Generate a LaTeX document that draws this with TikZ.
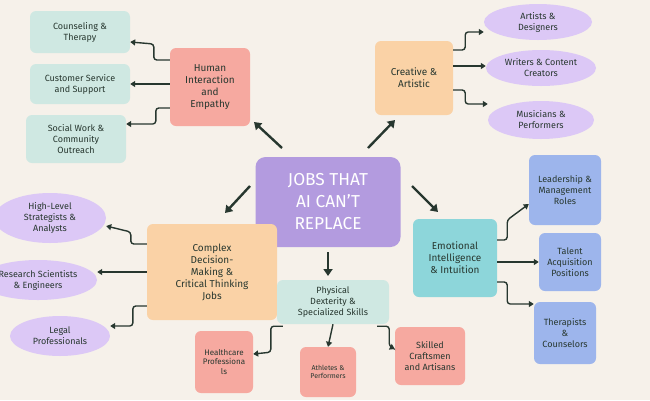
\documentclass[tikz,border=0pt]{standalone}
\usepackage{fontspec}
\setmainfont{Fira Sans}
\usetikzlibrary{shapes.geometric,arrows.meta}
\definecolor{bg}{HTML}{F6F1EA}
\definecolor{tealb}{HTML}{CFE8E2}
\definecolor{pinkb}{HTML}{F6A9A0}
\definecolor{orangeb}{HTML}{FAD2A6}
\definecolor{centerb}{HTML}{B39BDF}
\definecolor{lav}{HTML}{DCC8F6}
\definecolor{blueb}{HTML}{9DB5EC}
\definecolor{cyanb}{HTML}{8DD6DA}
\definecolor{ink}{HTML}{27372F}
\tikzset{
 box/.style={rounded corners=6pt,align=center,text=ink,font=\normalsize,inner sep=1pt},
 ell/.style={ellipse,fill=lav,align=center,text=ink,font=\small,inner sep=0pt},
 arr/.style={-{Triangle[length=7pt,width=9pt]},line width=2.4pt,draw=ink},
 sarr/.style={-{Triangle[length=5pt,width=6pt]},line width=1.4pt,draw=ink,rounded corners=3pt},
}
\begin{document}
\begin{tikzpicture}[x=1pt,y=-1pt]
\fill[bg] (0,0) rectangle (650,400);
\clip (0,0) rectangle (650,400);
\useasboundingbox (0,0) rectangle (650,400);
\node[box,fill=centerb,minimum width=145,minimum height=90,text=white,font=\LARGE,rounded corners=10pt] (c) at (328,202) {JOBS THAT\\AI CAN'T\\REPLACE};
\node[box,fill=pinkb,minimum width=80,minimum height=78] (h) at (210,87) {Human\\Interaction\\and\\Empathy};
\node[box,fill=tealb,minimum width=100,minimum height=42,font=\small] (h1) at (80,32) {Counseling \&\\Therapy};
\node[box,fill=tealb,minimum width=100,minimum height=40,font=\small] (h2) at (80,84) {Customer Service\\and Support};
\node[box,fill=tealb,minimum width=100,minimum height=48,font=\small] (h3) at (76,139) {Social Work \&\\Community\\Outreach};
\node[box,fill=orangeb,minimum width=78,minimum height=74] (cr) at (414,78) {Creative \&\\Artistic};
\node[ell,minimum width=108,minimum height=36] (cr1) at (538,22) {Artists \&\\Designers};
\node[ell,minimum width=110,minimum height=36] (cr2) at (541,68) {Writers \& Content\\Creators};
\node[ell,minimum width=106,minimum height=38] (cr3) at (541,120) {Musicians \&\\Performers};
\node[box,fill=cyanb,minimum width=84,minimum height=78] (e) at (455,258) {Emotional\\Intelligence\\\& Intuition};
\node[box,fill=blueb,minimum width=72,minimum height=70,font=\small] (e1) at (565,190) {Leadership \&\\Management\\Roles};
\node[box,fill=blueb,minimum width=62,minimum height=58,font=\small] (e2) at (570,262) {Talent\\Acquisition\\Positions};
\node[box,fill=blueb,minimum width=62,minimum height=62,font=\small] (e3) at (565,333) {Therapists\\\&\\Counselors};
\node[box,fill=orangeb,minimum width=130,minimum height=96] (d) at (212,272) {Complex\\Decision-\\Making \&\\Critical Thinking\\Jobs};
\node[ell,minimum width=112,minimum height=50] (d1) at (50,218) {High-Level\\Strategists \&\\Analysts};
\node[ell,minimum width=118,minimum height=40] (d2) at (38,280) {Research Scientists\\\& Engineers};
\node[ell,minimum width=100,minimum height=40] (d3) at (60,336) {Legal\\Professionals};
\node[box,fill=tealb,minimum width=112,minimum height=44,font=\small] (p) at (333,302) {Physical\\Dexterity \&\\Specialized Skills};
\node[box,fill=pinkb,minimum width=58,minimum height=62,font=\footnotesize] (p1) at (224,362) {Healthcare\\Professiona\\ls};
\node[box,fill=pinkb,minimum width=56,minimum height=50,font=\scriptsize] (p2) at (328,372) {Athletes \&\\Performers};
\node[box,fill=pinkb,minimum width=70,minimum height=58,font=\small] (p3) at (430,356) {Skilled\\Craftsmen\\and Artisans};
% main arrows
\coordinate (a1) at (282,148); \coordinate (b1) at (254,122);
\coordinate (a2) at (368,148); \coordinate (b2) at (395,120);
\coordinate (a3) at (412,186); \coordinate (b3) at (438,212);
\coordinate (a4) at (250,186); \coordinate (b4) at (225,213);
\coordinate (a5) at (328,252); \coordinate (b5) at (328,276);
\draw[arr] (a1) -- (b1);
\draw[arr] (a2) -- (b2);
\draw[arr] (a3) -- (b3);
\draw[arr] (a4) -- (b4);
\draw[arr] (a5) -- (b5);
% secondary
\draw[sarr] (h.west|-0,60) -- ++(-16,0) -- ++(0,-16) -- (h1.east|-0,42);
\draw[sarr] (h.west|-0,84) -- (h2.east|-0,84);
\draw[sarr] (h.west|-0,108) -- ++(-14,0) -- ++(0,16) -- (h3.east|-0,124);
\draw[sarr] (cr.east|-0,50) -- ++(12,0) -- ++(0,-18) -- (cr1.west|-0,32);
\draw[sarr] (cr.east|-0,66) -- (cr2.west|-0,66);
\draw[sarr] (cr.east|-0,90) -- ++(12,0) -- ++(0,14) -- (cr3.west|-0,104);
\draw[sarr] (e.east|-0,240) -- ++(10,0) -- ++(0,-20) -- (e1.west|-0,204);
\draw[sarr] (e.east|-0,262) -- (e2.west|-0,262);
\draw[sarr] (e.east|-0,282) -- ++(10,0) -- ++(0,22) -- (e3.west|-0,304);
\draw[sarr] (d.west|-0,244) -- ++(-16,0) -- ++(0,-12) -- (d1.east|-0,226);
\draw[sarr] (d.west|-0,272) -- (d2.east|-0,272);
\draw[sarr] (d.west|-0,306) -- ++(-14,0) -- ++(0,20) -- (d3.east|-0,326);
\draw[sarr] (p.south west) ++(6,2) -- ++(-12,0) -- ++(0,26) -- (p1.east|-0,354);
\draw[sarr] (p.south) -- (p2.north);
\draw[sarr] (p.south east) ++(-12,2) -- ++(12,0) -- ++(0,20) -- (p3.west|-0,349);
\end{tikzpicture}
\end{document}
